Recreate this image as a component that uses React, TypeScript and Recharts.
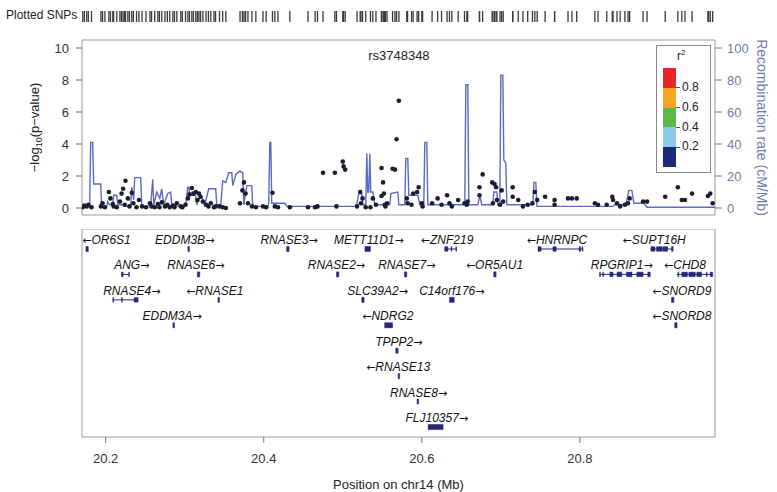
import React from 'react';
import {
  ComposedChart, Scatter, Line, XAxis, YAxis, ReferenceArea, ReferenceLine, ReferenceDot, Label,
} from 'recharts';

const X_DOMAIN: [number, number] = [20.17, 20.971];
const xTicks = [20.2, 20.4, 20.6, 20.8];
const pTicks = [0, 2, 4, 6, 8, 10];
const recombTicks = [0, 20, 40, 60, 80, 100];
const P_DOMAIN: [number, number] = [-0.4375, 10.5];
const R_DOMAIN: [number, number] = [-4.375, 105];
const ROW_DOMAIN: [number, number] = [-0.786, 7.393];

// SNP positions (Mb) and -log10(p)
const snpPos = [
  20.171, 20.173, 20.176, 20.178, 20.182, 20.194, 20.196, 20.199, 20.204, 20.206,
  20.209, 20.210, 20.214, 20.218, 20.220, 20.222, 20.224, 20.225, 20.228, 20.230,
  20.233, 20.235, 20.239, 20.242, 20.246, 20.251, 20.256, 20.258, 20.262, 20.266,
  20.268, 20.271, 20.275, 20.278, 20.281, 20.285, 20.287, 20.290, 20.295, 20.297,
  20.301, 20.304, 20.306, 20.309, 20.311, 20.314, 20.316, 20.318, 20.320, 20.323,
  20.327, 20.330, 20.333, 20.337, 20.339, 20.344, 20.348, 20.352, 20.370, 20.373,
  20.375, 20.377, 20.380, 20.385, 20.390, 20.399, 20.403, 20.411, 20.414, 20.418,
  20.433, 20.456, 20.465, 20.468, 20.475, 20.490, 20.492, 20.500, 20.501, 20.503,
  20.518, 20.522, 20.523, 20.525, 20.529, 20.535, 20.538, 20.542, 20.549, 20.549,
  20.551, 20.552, 20.553, 20.554, 20.556, 20.563, 20.566, 20.568, 20.571, 20.581,
  20.582, 20.587, 20.589, 20.594, 20.596, 20.600, 20.601, 20.613, 20.620, 20.625,
  20.632, 20.635, 20.638, 20.646, 20.654, 20.657, 20.658, 20.673, 20.673, 20.677,
  20.689, 20.690, 20.692, 20.694, 20.695, 20.699, 20.701, 20.703, 20.715, 20.715,
  20.722, 20.728, 20.734, 20.740, 20.743, 20.746, 20.756, 20.768, 20.768, 20.785,
  20.790, 20.796, 20.819, 20.823, 20.834, 20.841, 20.842, 20.847, 20.851, 20.857,
  20.861, 20.863, 20.880, 20.885, 20.908, 20.924, 20.929, 20.933, 20.942, 20.962,
  20.963, 20.965, 20.968,
];
const snpLogP = [
  0.05, 0.15, 0.10, 0.20, 0.05, 0.10, 0.30, 0.05, 1.00, 0.60,
  0.25, 0.10, 0.05, 0.40, 0.90, 1.20, 0.20, 1.70, 0.60, 0.10,
  0.95, 0.30, 0.05, 0.50, 0.10, 0.05, 0.30, 0.10, 0.05, 0.25,
  0.05, 0.35, 0.10, 0.20, 0.05, 0.15, 0.05, 0.30, 0.10, 0.05,
  0.20, 0.60, 0.85, 1.25, 0.90, 1.00, 0.50, 0.90, 0.70, 0.40,
  0.20, 0.10, 0.30, 0.05, 0.10, 0.10, 0.05, 0.00, 0.30, 1.10,
  1.60, 0.90, 0.30, 0.10, 0.05, 0.10, 0.05, 0.95, 0.10, 0.05,
  0.05, 0.05, 0.05, 0.10, 2.20, 2.20, 0.10, 2.90, 2.60, 2.40,
  0.10, 1.00, 0.30, 0.60, 0.05, 0.05, 0.60, 0.20, 2.50, 0.75,
  1.60, 0.90, 0.20, 0.10, 0.30, 2.45, 2.40, 4.30, 6.70, 0.60,
  0.30, 0.20, 0.90, 1.00, 1.30, 0.30, 0.10, 0.30, 0.60, 0.20,
  0.80, 0.30, 0.10, 0.50, 0.30, 0.20, 0.40, 1.30, 0.80, 2.10,
  1.60, 0.30, 1.50, 1.30, 0.50, 0.20, 1.10, 0.40, 1.30, 0.70,
  0.50, 0.10, 0.20, 0.30, 1.00, 0.50, 0.70, 0.50, 0.20, 0.60,
  0.60, 0.60, 0.30, 0.20, 0.20, 0.70, 0.50, 0.30, 0.10, 0.20,
  0.30, 0.60, 0.40, 0.40, 0.70, 1.30, 0.50, 0.50, 0.90, 0.75,
  2.40, 0.90, 0.30,
];
const leadSnp = 'rs3748348';
const leadLabelY = 9.55;

// recombination rate (cM/Mb)
const recombPos = [
  20.1696, 20.1772, 20.1797, 20.1810, 20.1835, 20.1848, 20.1937, 20.1949, 20.2013, 20.2025,
  20.2051, 20.2089, 20.2101, 20.2139, 20.2152, 20.2228, 20.2241, 20.2316, 20.2329, 20.2354,
  20.2367, 20.2443, 20.2456, 20.2532, 20.2570, 20.2595, 20.2608, 20.2646, 20.2684, 20.2709,
  20.2734, 20.2785, 20.2823, 20.2835, 20.2924, 20.3013, 20.3038, 20.3051, 20.3063, 20.3139,
  20.3152, 20.3203, 20.3253, 20.3304, 20.3392, 20.3405, 20.3456, 20.3481, 20.3519, 20.3557,
  20.3595, 20.3608, 20.3646, 20.3696, 20.3734, 20.3747, 20.3785, 20.3848, 20.3861, 20.4051,
  20.4063, 20.4076, 20.4089, 20.4101, 20.4266, 20.4291, 20.5165, 20.5177, 20.5203, 20.5241,
  20.5253, 20.5291, 20.5304, 20.5316, 20.5329, 20.5342, 20.5354, 20.5380, 20.5405, 20.5595,
  20.5608, 20.5696, 20.5709, 20.5785, 20.5797, 20.5823, 20.5835, 20.5949, 20.5975, 20.6025,
  20.6038, 20.6063, 20.6076, 20.6544, 20.6557, 20.6582, 20.6595, 20.6709, 20.6734, 20.6759,
  20.6899, 20.6911, 20.6949, 20.6962, 20.6987, 20.7000, 20.7025, 20.7038, 20.7063, 20.7076,
  20.7405, 20.7418, 20.7443, 20.7456, 20.8418, 20.8443, 20.8582, 20.8620, 20.8658, 20.8684,
  20.8810, 20.8848, 20.9709,
];
const recombRate = [
  1, 1.5, 2, 41, 41, 15, 15, 1, 1, 4,
  2, 2, 8, 8, 2, 2, 1, 1, 13, 5,
  19, 19, 1, 1, 2, 18, 2, 10, 6, 12,
  2, 9, 10, 2, 1, 2, 13, 13, 8, 8,
  2, 8, 2, 12, 12, 2, 2, 17, 16, 22,
  22, 14, 21, 23, 22, 2, 14, 14, 1, 1,
  3, 41, 41, 3, 3, 1, 1, 2, 9, 9,
  2, 2, 34, 10, 10, 34, 10, 10, 2, 2,
  9, 10, 2, 2, 31, 31, 8, 8, 2, 2,
  41, 41, 2, 2, 77, 77, 2, 2, 8, 2,
  2, 10, 10, 2, 2, 83, 83, 30, 28, 2,
  2, 16, 16, 1, 1, 2, 2, 11, 11, 3,
  3, 0.5, 0.5,
];

// genes: name, start, end, strand, row, label centre (Mb)
const genes: [string, number, number, number, number, number][] = [
  ['OR6S1', 20.175, 20.178, -1, 0, 20.201],
  ['EDDM3B', 20.304, 20.306, 1, 0, 20.300],
  ['RNASE3', 20.429, 20.432, 1, 0, 20.432],
  ['METT11D1', 20.528, 20.535, 1, 0, 20.533],
  ['ZNF219', 20.629, 20.644, -1, 0, 20.632],
  ['HNRNPC', 20.747, 20.804, -1, 0, 20.771],
  ['SUPT16H', 20.889, 20.918, -1, 0, 20.894],
  ['ANG', 20.220, 20.230, 1, 1, 20.233],
  ['RNASE6', 20.316, 20.319, 1, 1, 20.314],
  ['RNASE2', 20.492, 20.495, 1, 1, 20.492],
  ['RNASE7', 20.578, 20.581, 1, 1, 20.581],
  ['OR5AU1', 20.691, 20.694, -1, 1, 20.692],
  ['RPGRIP1', 20.825, 20.889, 1, 1, 20.853],
  ['CHD8', 20.923, 20.968, -1, 1, 20.933],
  ['RNASE4', 20.209, 20.241, 1, 2, 20.233],
  ['RNASE1', 20.342, 20.344, -1, 2, 20.338],
  ['SLC39A2', 20.524, 20.527, 1, 2, 20.544],
  ['C14orf176', 20.635, 20.641, 1, 2, 20.638],
  ['SNORD9', 20.916, 20.919, -1, 2, 20.929],
  ['EDDM3A', 20.285, 20.287, 1, 3, 20.284],
  ['NDRG2', 20.553, 20.563, -1, 3, 20.557],
  ['SNORD8', 20.920, 20.923, -1, 3, 20.929],
  ['TPPP2', 20.567, 20.570, 1, 4, 20.571],
  ['RNASE13', 20.570, 20.572, -1, 5, 20.570],
  ['RNASE8', 20.594, 20.596, 1, 6, 20.596],
  ['FLJ10357', 20.608, 20.627, 1, 7, 20.619],
];

// exons of the multi-exon genes: row, start, end
const exons: [number, number, number][] = [
  [0, 20.629, 20.633], [0, 20.637, 20.638], [0, 20.643, 20.644],
  [0, 20.747, 20.751], [0, 20.766, 20.770], [0, 20.799, 20.801], [0, 20.803, 20.804],
  [0, 20.890, 20.895], [0, 20.897, 20.904], [0, 20.905, 20.911], [0, 20.916, 20.918],
  [1, 20.220, 20.222], [1, 20.229, 20.230],
  [1, 20.825, 20.826], [1, 20.829, 20.830], [1, 20.838, 20.842], [1, 20.847, 20.853],
  [1, 20.859, 20.866], [1, 20.872, 20.880], [1, 20.886, 20.889],
  [1, 20.924, 20.925], [1, 20.929, 20.936], [1, 20.938, 20.946], [1, 20.948, 20.954],
  [1, 20.960, 20.961], [1, 20.965, 20.968],
  [2, 20.209, 20.210], [2, 20.220, 20.221], [2, 20.236, 20.241],
];

const r2Colors = ['#e8262a', '#f6a623', '#5cb848', '#8ccbee', '#1d2a78'];
const r2Labels = ['0.8', '0.6', '0.4', '0.2'];

const FONT = '"Liberation Sans", Arial, Helvetica, sans-serif';
const NAVY = '#26267a';
const RECOMB = '#5a6bc2';
const AXIS_BLUE = '#7479b3';

const snpData = snpPos.map((pos, i) => ({ pos, logp: snpLogP[i] }));
const rugData = snpPos.map((pos) => ({ pos, y: 0.5 }));
const recombData = recombPos.map((pos, i) => ({ pos, rate: recombRate[i] }));
const leadIdx = snpLogP.indexOf(Math.max(...snpLogP));
const labelData = genes.map(([name, , , strand, row, mid]) => ({ pos: mid, row, name, strand }));
const hasExons = (g: (typeof genes)[number]) =>
  exons.some(([r, s]) => r === g[4] && s >= g[1] - 0.0005 && s <= g[2]);

const Dot = (p: any) => <circle cx={p.cx} cy={p.cy} r={2.3} fill="#1c1c2e" />;
const RugTick = (p: any) => (
  <line x1={p.cx} x2={p.cx} y1={p.cy - 6} y2={p.cy + 5} stroke="#3a3a3a" strokeWidth={1.3} />
);
const ARROW_FONT = '"DejaVu Sans", sans-serif';
const GeneLabel = (p: any) => {
  const g = p.payload;
  return (
    <text x={p.cx} y={p.cy - 5} textAnchor="middle" fontSize={12} fontStyle="italic"
      fontFamily={FONT} fill="#111">
      {g.strand < 0 && <tspan fontFamily={ARROW_FONT} fontStyle="normal" fontSize={11}>{'\u2190'}</tspan>}
      {g.name}
      {g.strand > 0 && <tspan fontFamily={ARROW_FONT} fontStyle="normal" fontSize={11}>{'\u2192'}</tspan>}
    </text>
  );
};

const LeftTitle = ({ viewBox }: any) => {
  const x = viewBox.x + 17;
  const y = viewBox.y + viewBox.height / 2;
  return (
    <text transform={`translate(${x},${y}) rotate(-90)`} textAnchor="middle" fontSize={13}
      fill="#222" fontFamily={FONT}>
      −log<tspan fontSize={9} dy={3}>10</tspan><tspan dy={-3}>(p−value)</tspan>
    </text>
  );
};
const RightTitle = ({ viewBox }: any) => {
  const x = viewBox.x + 42;
  const y = viewBox.y + viewBox.height / 2;
  return (
    <text transform={`translate(${x},${y}) rotate(90)`} textAnchor="middle" fontSize={14}
      fill={AXIS_BLUE} fontFamily={FONT}>Recombination rate (cM/Mb)</text>
  );
};
const BottomTitle = ({ viewBox }: any) => (
  <text x={viewBox.x + viewBox.width / 2} y={viewBox.y + 52} textAnchor="middle" fontSize={13}
    fill="#222" fontFamily={FONT}>Position on chr14 (Mb)</text>
);

export default function App() {
  return (
    <div style={{ position: 'absolute', left: 0, top: 0, width: 777, height: 492, background: '#fff', fontFamily: FONT }}>
      {/* rug of plotted SNPs */}
      <div style={{ position: 'absolute', left: 0, top: 0 }}>
        <ComposedChart width={777} height={34} margin={{ top: 0, right: 62, bottom: 0, left: 82 }}>
          <XAxis type="number" dataKey="pos" domain={X_DOMAIN} hide allowDataOverflow />
          <YAxis type="number" dataKey="y" domain={[0, 1]} hide />
          <Scatter data={rugData} shape={RugTick} isAnimationActive={false} />
        </ComposedChart>
      </div>
      <div style={{ position: 'absolute', left: 6, top: 8, fontSize: 12, color: '#222' }}>Plotted SNPs</div>

      {/* association + recombination */}
      <div style={{ position: 'absolute', left: 0, top: 0 }}>
        <ComposedChart width={777} height={230} margin={{ top: 40, right: 22, bottom: 15, left: 22 }}>
          <XAxis type="number" dataKey="pos" domain={X_DOMAIN} hide allowDataOverflow />
          <YAxis yAxisId="left" type="number" dataKey="logp" domain={P_DOMAIN} ticks={pTicks} width={60}
            axisLine={false} tickSize={6} tickMargin={7} allowDataOverflow
            tick={{ fontSize: 13, fill: '#333', fontFamily: FONT }} tickLine={{ stroke: '#666' }}
            label={<Label content={LeftTitle} />} />
          <YAxis yAxisId="right" orientation="right" type="number" dataKey="rate" domain={R_DOMAIN}
            ticks={recombTicks} width={40} axisLine={false} tickSize={7} tickMargin={5} allowDataOverflow
            tick={{ fontSize: 13, fill: AXIS_BLUE, fontFamily: FONT }} tickLine={{ stroke: AXIS_BLUE }}
            label={<Label content={RightTitle} />} />
          <ReferenceArea yAxisId="left" x1={X_DOMAIN[0]} x2={X_DOMAIN[1]} y1={P_DOMAIN[0]} y2={P_DOMAIN[1]}
            fill="none" stroke="#9a9a9a" fillOpacity={0} />
          <Line yAxisId="right" data={recombData} dataKey="rate" type="linear" dot={false}
            stroke={RECOMB} strokeWidth={1.4} isAnimationActive={false} />
          <Scatter yAxisId="left" data={snpData} dataKey="logp" shape={Dot} isAnimationActive={false} />
          <ReferenceDot yAxisId="left" x={snpPos[leadIdx]} y={leadLabelY} r={0} fill="none" stroke="none"
            label={{ value: leadSnp, position: 'center', fontSize: 13, fill: '#222', fontFamily: FONT }} />
        </ComposedChart>
      </div>

      {/* r2 legend */}
      <div style={{ position: 'absolute', left: 656, top: 45, width: 53, height: 126, border: '1px solid #888', background: '#fff' }} />
      <div style={{ position: 'absolute', left: 677, top: 48, fontSize: 12, color: '#222' }}>r<sup style={{ fontSize: 8 }}>2</sup></div>
      {r2Colors.map((c, i) => (
        <div key={c} style={{ position: 'absolute', left: 663, top: 68 + i * 19.8, width: 13, height: 19.8, background: c }} />
      ))}
      {r2Labels.map((l, i) => (
        <React.Fragment key={l}>
          <div style={{ position: 'absolute', left: 676, top: 87.3 + i * 19.8, width: 4, height: 1, background: '#555' }} />
          <div style={{ position: 'absolute', left: 682, top: 80 + i * 19.8, fontSize: 12, color: '#222' }}>{l}</div>
        </React.Fragment>
      ))}

      {/* genes */}
      <div style={{ position: 'absolute', left: 0, top: 229 }}>
        <ComposedChart width={777} height={263} margin={{ top: 0, right: 62, bottom: 0, left: 82 }}>
          <XAxis type="number" dataKey="pos" domain={X_DOMAIN} ticks={xTicks} height={55}
            tickFormatter={(v: number) => v.toFixed(1)} axisLine={false} tickSize={6} tickMargin={11}
            tick={{ fontSize: 13, fill: '#333', fontFamily: FONT }} tickLine={{ stroke: '#777' }}
            allowDataOverflow label={<Label content={BottomTitle} />} />
          <YAxis type="number" dataKey="row" domain={ROW_DOMAIN} reversed hide allowDataOverflow />
          <ReferenceArea x1={X_DOMAIN[0]} x2={X_DOMAIN[1]} y1={ROW_DOMAIN[0]} y2={ROW_DOMAIN[1]}
            fill="none" fillOpacity={0} stroke="#9a9a9a" />
          {genes.map((g) =>
            hasExons(g) ? (
              <ReferenceLine key={`i-${g[0]}`} segment={[{ x: g[1], y: g[4] }, { x: g[2], y: g[4] }]}
                stroke={NAVY} strokeWidth={1} />
            ) : (
              <ReferenceArea key={`g-${g[0]}`} x1={g[1]} x2={g[2]} y1={g[4] - 0.1} y2={g[4] + 0.1}
                fill={NAVY} fillOpacity={1} stroke={NAVY} strokeWidth={0.5} />
            ),
          )}
          {exons.map(([r, s, e], i) => (
            <ReferenceArea key={`e-${i}`} x1={s} x2={e} y1={r - 0.09} y2={r + 0.09}
              fill={NAVY} fillOpacity={1} stroke={NAVY} strokeWidth={0.5} />
          ))}
          <Scatter data={labelData} dataKey="row" shape={GeneLabel} isAnimationActive={false} />
        </ComposedChart>
      </div>
    </div>
  );
}
